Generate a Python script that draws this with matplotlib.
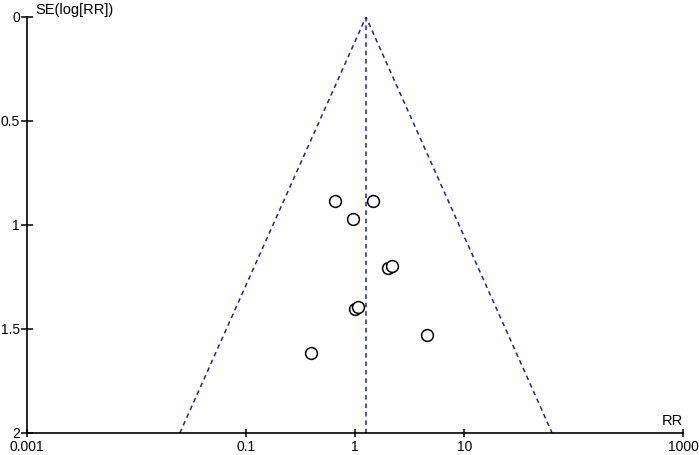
import matplotlib.pyplot as plt

plt.rcParams['font.family'] = ['Liberation Sans', 'DejaVu Sans']

# study estimates
rr = [0.66, 1.47, 0.96, 2.01, 2.18, 1.00, 1.07, 4.57, 0.40]
se = [0.885, 0.885, 0.972, 1.205, 1.198, 1.405, 1.392, 1.530, 1.613]

# pooled estimate and 95% funnel limits
pooled_rr = 1.26
funnel_se = [2.0, 0.0, 2.0]
funnel_rr = [0.025, 1.26, 63.5]

x_ticks = [0.001, 0.1, 1, 10, 1000]
x_labels = ['0.001', '0.1', '1', '10', '1000']
y_ticks = [0, 0.5, 1, 1.5, 2]
y_labels = ['0', '0.5', '1', '1.5', '2']

fig = plt.figure(figsize=(6.99, 4.55), dpi=100)
ax = fig.add_axes([27 / 699, 1 - 433 / 455, 656 / 699, 416 / 455])

line_col = '#2020a0'
ax.plot(funnel_rr, funnel_se, color=line_col, lw=1.1, ls=(0, (3, 2.5)))
ax.plot([pooled_rr, pooled_rr], [0, 2], color=line_col, lw=1.1, ls=(0, (3, 2.5)))
ax.plot(rr, se, 'o', ms=8.5, mfc='white', mec='black', mew=1.1, ls='none')

ax.set_xscale('log')
ax.set_xlim(0.001, 1000)
ax.set_ylim(2, 0)
ax.set_xticks(x_ticks)
ax.set_xticklabels(x_labels)
ax.minorticks_off()
ax.set_yticks(y_ticks)
ax.set_yticklabels(y_labels)

for s in ['top', 'right']:
    ax.spines[s].set_visible(False)
for s in ['left', 'bottom']:
    ax.spines[s].set_linewidth(1.2)
ax.tick_params(axis='y', labelsize=10, direction='inout', length=8, width=1.1, pad=1)
ax.tick_params(axis='x', labelsize=10, direction='inout', length=6, width=1.1, pad=2)

fig.text(35 / 699, 1 - 10 / 455, 'SE(log[RR])', fontsize=10.5, va='center', ha='left')
fig.text(683 / 699, 1 - 421 / 455, 'RR', fontsize=10.5, va='center', ha='right')

fig.savefig('out.png', dpi=100)
